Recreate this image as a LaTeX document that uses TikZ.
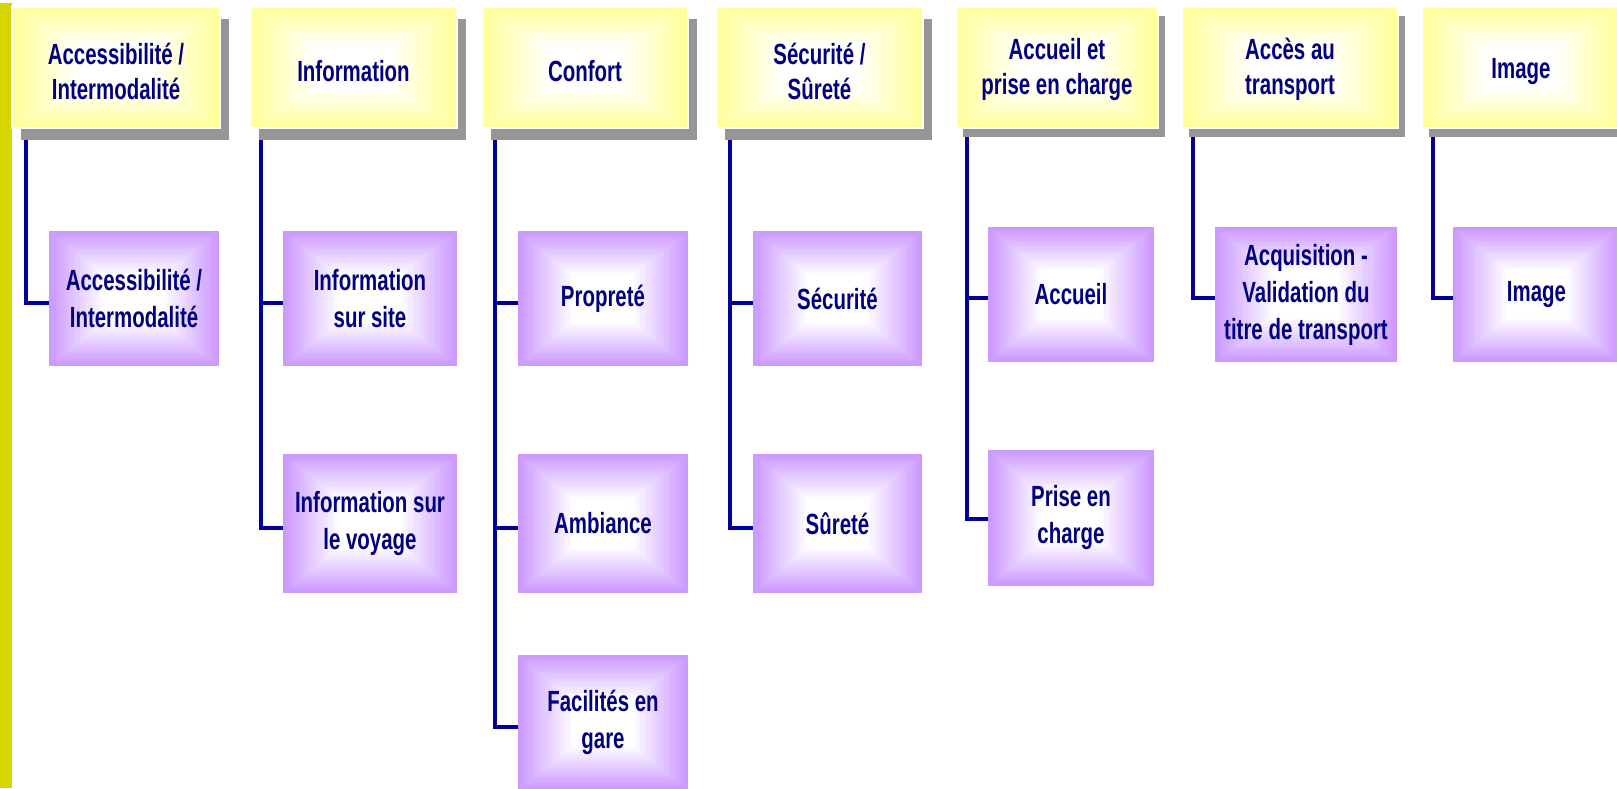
\documentclass[tikz,border=0pt]{standalone}
\usepackage{fontspec}
\newfontfamily\nf[FakeStretch=0.70]{Liberation Sans}
\usetikzlibrary{calc,shadows,backgrounds}
\pgfdeclarelayer{paper}
\pgfsetlayers{paper,background,main}
\definecolor{txt}{RGB}{0,0,128}
\definecolor{ln}{RGB}{0,0,153}
\definecolor{ylw}{RGB}{255,255,153}
\definecolor{prp}{RGB}{204,153,255}
\definecolor{shd}{RGB}{150,150,150}
\definecolor{barcol}{RGB}{213,213,0}
\begin{document}
\begin{tikzpicture}[x=0.5pt,y=-0.5pt,
  grad/.style={path picture={
    \foreach \t in {0,1,...,16}{
      \pgfmathsetmacro\pc{100-\t*6.25}
      \pgfmathsetmacro\fr{\t*0.02}
      \fill[#1!\pc!white] ($(path picture bounding box.south west)!\fr!(path picture bounding box.north east)$) rectangle ($(path picture bounding box.north east)!\fr!(path picture bounding box.south west)$);
    }}},
  hdr/.style={rectangle, inner sep=0pt, grad=ylw, draw=white, line width=1pt,
    drop shadow={shadow xshift=4.5pt, shadow yshift=-6pt, fill=shd, opacity=1},
    minimum height=60.5pt},
  hdrb/.style={rectangle, inner sep=0pt, grad=ylw, draw=white, line width=1pt,
    drop shadow={shadow xshift=3.5pt, shadow yshift=-4.5pt, fill=shd, opacity=1},
    minimum height=60.5pt},
  htxt/.style={inner sep=0pt, text=txt, align=center,
    font=\nf\bfseries\fontsize{14.6pt}{17.5pt}\selectfont},
  pbox/.style={rectangle, inner sep=0pt, grad=prp, text=txt, align=center,
    font=\nf\bfseries\fontsize{14.6pt}{18.5pt}\selectfont},
  conn/.style={draw=ln, line width=1.8pt}
]
\useasboundingbox (0,0) rectangle (1617,788);
\clip (0,0) rectangle (1617,788);
\begin{pgfonlayer}{paper}
\fill[white] (0,0) rectangle (1617,788);
\end{pgfonlayer}
\fill[barcol] (0,3) rectangle (12,788);

% headers
\node[hdr, minimum width=104pt]   (H1) at (116,67.5)  {};
\node[hdr, minimum width=103.5pt] (H2) at (353.5,67.5) {};
\node[hdr, minimum width=103pt]   (H3) at (585,67.5)  {};
\node[hdr, minimum width=103.5pt] (H4) at (819.5,67.5) {};
\node[hdrb, minimum width=101pt]  (H5) at (1057,67.5) {};
\node[hdrb, minimum width=108pt]  (H6) at (1290,67.5) {};
\node[hdrb, minimum width=99pt]   (H7) at (1521,67.5) {};
\node[htxt] (T1) at ([yshift=-2pt]H1.center) {Accessibilité /\\Intermodalité};
\node[htxt] (T2) at ([yshift=-2pt]H2.center) {Information};
\node[htxt] (T3) at ([yshift=-2pt]H3.center) {Confort};
\node[htxt] (T4) at ([yshift=-2pt]H4.center) {Sécurité /\\Sûreté};
\node[htxt] (T5) at ([yshift=-1pt]H5.center) {Accueil et\\prise en charge};
\node[htxt] (T6) at ([yshift=-1pt]H6.center) {Accès au\\transport};
\node[htxt] (T7) at ([yshift=-2pt]H7.center) {Image};

% children
\node[pbox, minimum width=85pt,   minimum height=67.5pt] (P1)  at (134,298.5)   {Accessibilité /\\Intermodalité};
\node[pbox, minimum width=87pt,   minimum height=67.5pt] (P2a) at (370,298.5)   {Information\\sur site};
\node[pbox, minimum width=87pt,   minimum height=69.5pt] (P2b) at (370,523.5)   {Information sur\\le voyage};
\node[pbox, minimum width=85pt,   minimum height=67.5pt] (P3a) at (603,298.5)   {Propreté};
\node[pbox, minimum width=85pt,   minimum height=69.5pt] (P3b) at (603,523.5)   {Ambiance};
\node[pbox, minimum width=85pt,   minimum height=67.5pt] (P3c) at (603,722.5)   {Facilités en\\gare};
\node[pbox, minimum width=84.5pt, minimum height=67.5pt] (P4a) at (837.5,298.5) {Sécurité};
\node[pbox, minimum width=84.5pt, minimum height=69.5pt] (P4b) at (837.5,523.5) {Sûreté};
\node[pbox, minimum width=83pt,   minimum height=67.5pt] (P5a) at (1071,294.5)  {Accueil};
\node[pbox, minimum width=83pt,   minimum height=68pt]   (P5b) at (1071,518)    {Prise en\\charge};
\node[pbox, minimum width=91pt,   minimum height=67.5pt] (P6)  at (1306,294.5)  {Acquisition -\\Validation du\\titre de transport};
\node[pbox, minimum width=83.5pt, minimum height=67.5pt] (P7)  at (1536.5,294.5) {Image};

\begin{scope}[on background layer]
\draw[conn] ([xshift=7.5pt]H1.south west) |- ([yshift=-2.25pt]P1.west);
\draw[conn] ([xshift=6pt]H2.south west) |- ([yshift=-2.25pt]P2a.west);
\draw[conn] ([xshift=6pt]H2.south west) |- ([yshift=-2.25pt]P2b.west);
\draw[conn] ([xshift=7pt]H3.south west) |- ([yshift=-2.25pt]P3a.west);
\draw[conn] ([xshift=7pt]H3.south west) |- ([yshift=-2.25pt]P3b.west);
\draw[conn] ([xshift=7pt]H3.south west) |- ([yshift=-2.25pt]P3c.west);
\draw[conn] ([xshift=7.5pt]H4.south west) |- ([yshift=-2.25pt]P4a.west);
\draw[conn] ([xshift=7.5pt]H4.south west) |- ([yshift=-2.25pt]P4b.west);
\draw[conn] ([xshift=6pt]H5.south west) |- ([yshift=-1.75pt]P5a.west);
\draw[conn] ([xshift=6pt]H5.south west) |- ([yshift=-0.5pt]P5b.west);
\draw[conn] ([xshift=6pt]H6.south west) |- ([yshift=-1.75pt]P6.west);
\draw[conn] ([xshift=6pt]H7.south west) |- ([yshift=-1.75pt]P7.west);
\end{scope}
\end{tikzpicture}
\end{document}
